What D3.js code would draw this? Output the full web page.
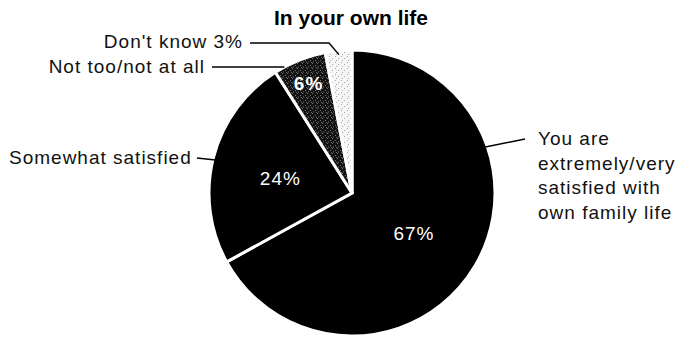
<!DOCTYPE html>
<html>
<head>
<meta charset="utf-8">
<script src="https://cdn.jsdelivr.net/npm/d3@7"></script>
<style>
  html, body { margin: 0; padding: 0; background: #fff; }
  svg { display: block; font-family: "Liberation Sans", Arial, Helvetica, sans-serif; }
</style>
</head>
<body>
<svg id="chart" width="690" height="337"></svg>
<script>
// ---- data ----
const categories = ["You are extremely/very satisfied with own family life", "Somewhat satisfied", "Not too/not at all", "Don't know"];
const values = [67, 24, 6, 3];
const valueLabels = ["67%", "24%", "6%", ""];
const title = "In your own life";

// ---- style / layout ----
const W = 690, H = 337;
const cx = 352, cy = 193, R = 143;
const svg = d3.select("#chart");

const defs = svg.append("defs");
// dark stipple
const pd = defs.append("pattern").attr("id", "darkDots").attr("width", 5).attr("height", 5)
  .attr("patternUnits", "userSpaceOnUse");
pd.append("rect").attr("width", 5).attr("height", 5).attr("fill", "#121212");
[[0,0],[3,2],[1,3.5],[4,4.2]].forEach(([x,y]) => pd.append("rect").attr("x", x).attr("y", y).attr("width", 0.9).attr("height", 0.9).attr("fill", "#8a8a8a"));
// light stipple
const pl = defs.append("pattern").attr("id", "lightDots").attr("width", 6).attr("height", 6)
  .attr("patternUnits", "userSpaceOnUse");
pl.append("rect").attr("width", 6).attr("height", 6).attr("fill", "#f6f6f6");
[[1,1],[4,3],[2,5]].forEach(([x,y]) => pl.append("rect").attr("x", x).attr("y", y).attr("width", 1).attr("height", 1).attr("fill", "#aaaaaa"));

const fills = ["#000", "#000", "url(#darkDots)", "url(#lightDots)"];

const pie = d3.pie().sort(null).value(d => d)(values);
const arc = d3.arc().innerRadius(0).outerRadius(R);

const g = svg.append("g").attr("transform", `translate(${cx},${cy})`);
g.selectAll("path.slice").data(pie).join("path")
  .attr("class", "slice")
  .attr("d", arc)
  .attr("fill", (d, i) => fills[i])
  .attr("stroke", "#fff")
  .attr("stroke-width", 3)
  .attr("stroke-linejoin", "miter");

// value labels inside
const labelR = [72, 74, 118, 0];
g.selectAll("text.val").data(pie).join("text")
  .attr("class", "val")
  .attr("x", (d, i) => labelR[i] * Math.sin((d.startAngle + d.endAngle) / 2))
  .attr("y", (d, i) => -labelR[i] * Math.cos((d.startAngle + d.endAngle) / 2) + (i === 2 ? 7 : 10))
  .attr("text-anchor", "middle")
  .attr("fill", "#fff")
  .attr("font-size", 19)
  .attr("letter-spacing", 1)
  .attr("font-weight", (d, i) => i === 2 ? "bold" : "normal")
  .text((d, i) => valueLabels[i]);

// title
svg.append("text")
  .attr("x", 351).attr("y", 25)
  .attr("text-anchor", "middle")
  .attr("font-size", 21).attr("font-weight", "bold")
  .text(title);

// outside labels with leader lines
const toXY = (angDeg, r) => {
  const a = angDeg * Math.PI / 180;
  return [cx + r * Math.sin(a), cy - r * Math.cos(a)];
};
const midDeg = i => (pie[i].startAngle + pie[i].endAngle) / 2 * 180 / Math.PI;

const lineStyle = sel => sel.attr("fill", "none").attr("stroke", "#000").attr("stroke-width", 1.5);
const txt = (x, y, s, anchor) => svg.append("text").attr("x", x).attr("y", y)
  .attr("text-anchor", anchor || "start").attr("font-size", 19).attr("letter-spacing", 1).attr("fill", "#111").text(s);

// Don't know
txt(243, 48, categories[3] + " " + values[3] + "%", "end");
{
  const e = toXY(midDeg(3), R - 4);
  svg.append("path").attr("d", d3.line()([[250, 43], [329, 43], e])).call(lineStyle);
}
// Not too / not at all
txt(205, 73, categories[2], "end");
{
  const yL = 67;
  const xL = cx - Math.sqrt(R * R - (cy - yL) * (cy - yL));
  svg.append("path").attr("d", d3.line()([[212, yL], [xL, yL]])).call(lineStyle);
}
// Somewhat satisfied
txt(9, 164, categories[1], "start");
{
  const e = toXY(midDeg(1), R - 2);
  svg.append("path").attr("d", d3.line()([[197, 158], [e[0], e[1] + 2]])).call(lineStyle);
}
// You are ...
{
  const lines = ["You are", "extremely/very", "satisfied with", "own family life"];
  const t = svg.append("text").attr("x", 538).attr("y", 145).attr("font-size", 19).attr("letter-spacing", 1).attr("fill", "#111");
  lines.forEach((s, k) => t.append("tspan").attr("x", 538).attr("dy", k === 0 ? 0 : 24.7).text(s));
  const e = toXY(71, R - 2);
  svg.append("path").attr("d", d3.line()([e, [525, 139]])).call(lineStyle);
}
</script>
</body>
</html>
